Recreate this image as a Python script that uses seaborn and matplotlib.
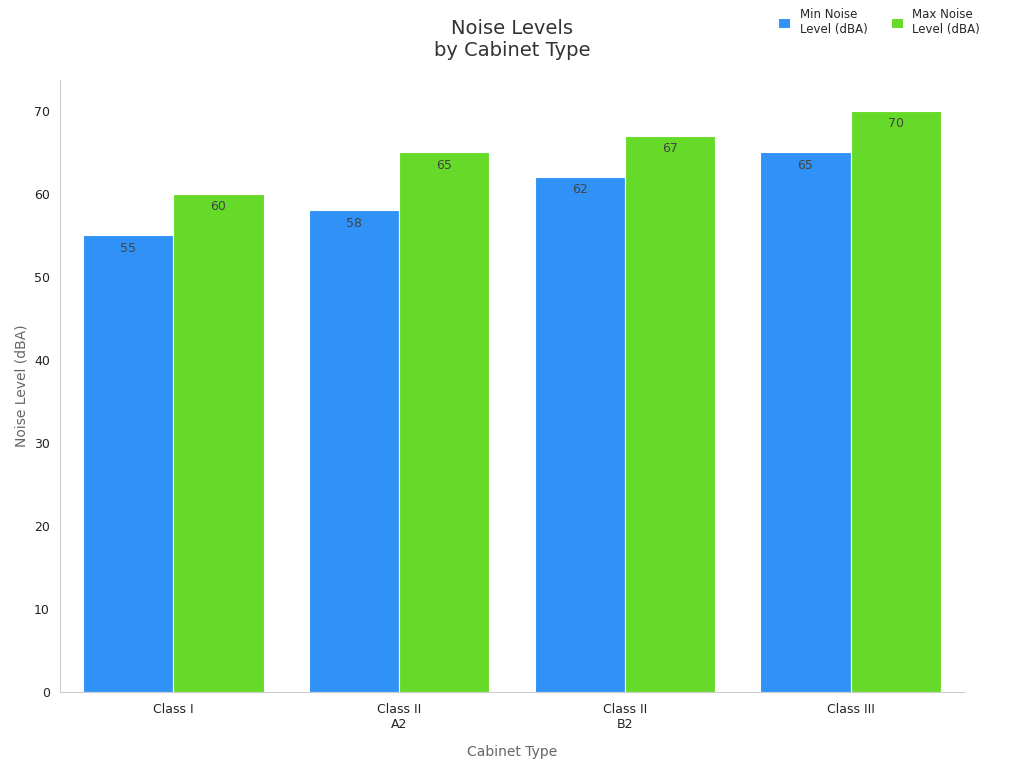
import matplotlib
matplotlib.use("Agg")
import matplotlib.pyplot as plt
import pandas as pd
import seaborn as sns

categories = ["Class I", "Class II\nA2", "Class II\nB2", "Class III"]
min_noise = [55, 58, 62, 65]
max_noise = [60, 65, 67, 70]
series_names = ["Min Noise\nLevel (dBA)", "Max Noise\nLevel (dBA)"]
colors = ["#3091F7", "#66DA28"]

df = pd.DataFrame({
    "Cabinet Type": categories * 2,
    "value": min_noise + max_noise,
    "series": [series_names[0]] * 4 + [series_names[1]] * 4,
})

sns.set_style("white")
fig = plt.figure(figsize=(10.24, 7.68), dpi=100)
ax = fig.add_axes([0.059, 0.099, 0.882, 0.797])
sns.barplot(data=df, x="Cabinet Type", y="value", hue="series", palette=colors,
            width=0.8, edgecolor="white", linewidth=0.8, saturation=1, ax=ax)

for cont in ax.containers:
    ax.bar_label(cont, padding=-14, color="#444444", fontsize=9)

ax.set_xlim(-0.5, 3.5)
ax.set_ylim(0, 73.7)
ax.set_yticks(range(0, 71, 10))
ax.tick_params(axis="both", labelsize=9, colors="#222222", length=4)
ax.tick_params(axis="x", length=0, pad=8)
ax.set_xlabel("Cabinet Type", fontsize=10, color="#666666", labelpad=10)
ax.set_ylabel("Noise Level (dBA)", fontsize=10, color="#666666")
for s in ["top", "right"]:
    ax.spines[s].set_visible(False)
for s in ["left", "bottom"]:
    ax.spines[s].set_color("#cccccc")

fig.suptitle("Noise Levels\nby Cabinet Type", x=0.5, y=0.975, fontsize=14, color="#333333")
leg = ax.legend(loc="upper right", bbox_to_anchor=(1.03, 1.135), ncol=2, frameon=False,
                fontsize=8.5, handlelength=1, handleheight=1, columnspacing=2)
fig.savefig("out.png", dpi=100)
